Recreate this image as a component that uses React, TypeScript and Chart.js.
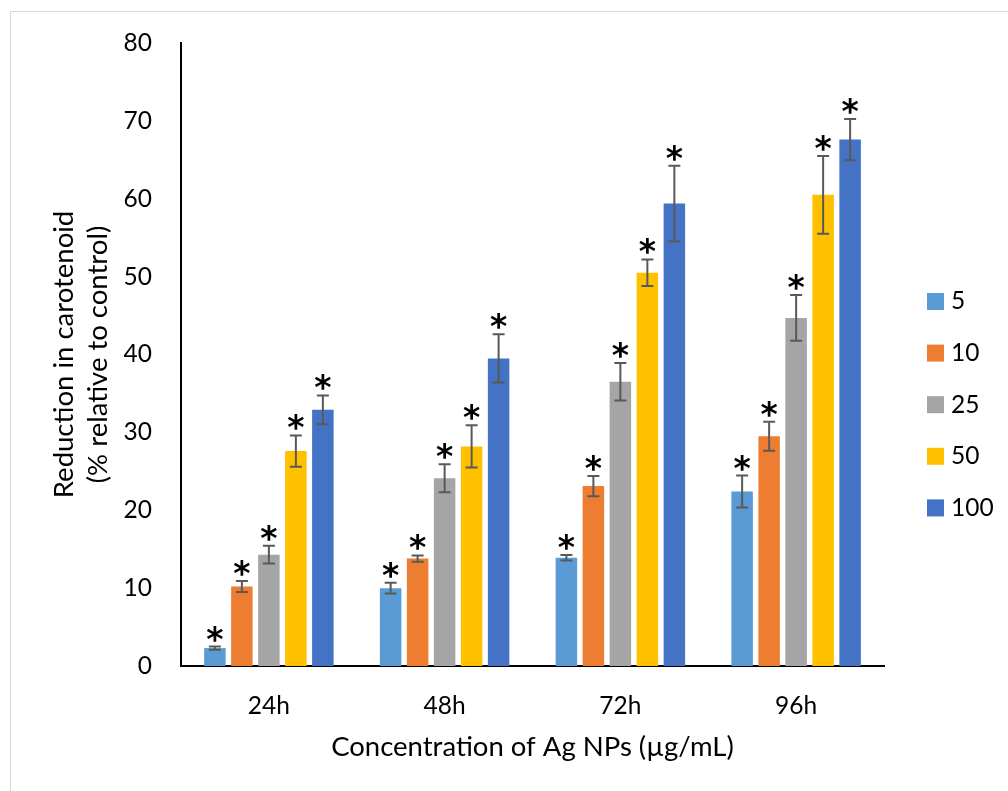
import { useEffect, useRef } from "react";
import { Chart, registerables } from "chart.js";

Chart.register(...registerables);

// ---- data ----
const categories = ["24h", "48h", "72h", "96h"];
const seriesLabels = ["5", "10", "25", "50", "100"];
const values5 = [2.3, 10.0, 13.9, 22.4];
const values10 = [10.2, 13.8, 23.1, 29.5];
const values25 = [14.3, 24.1, 36.5, 44.7];
const values50 = [27.6, 28.2, 50.5, 60.5];
const values100 = [32.9, 39.5, 59.4, 67.6];
const err5 = [0.2, 0.7, 0.35, 2.05];
const err10 = [0.7, 0.4, 1.3, 1.85];
const err25 = [1.15, 1.8, 2.4, 2.95];
const err50 = [2.0, 2.7, 1.7, 5.0];
const err100 = [1.85, 3.1, 4.85, 2.65];
const seriesColors = ["#5B9BD5", "#ED7D31", "#A5A5A5", "#FFC000", "#4472C4"];
const yMin = 0;
const yMax = 80;
const yStep = 10;
const xTitle = "Concentration of Ag NPs (µg/mL)";
const yTitle = ["Reduction in carotenoid", "(% relative to control)"];
const significanceMark = "*";

const allValues = [values5, values10, values25, values50, values100];
const allErrors = [err5, err10, err25, err50, err100];

const FONT = "Lato, 'Open Sans', sans-serif";

const errorBarPlugin = {
  id: "errorBarsAndMarks",
  afterDatasetsDraw(chart: any) {
    const ctx = chart.ctx;
    const yScale = chart.scales.y;
    chart.data.datasets.forEach((ds: any, i: number) => {
      const meta = chart.getDatasetMeta(i);
      meta.data.forEach((bar: any, j: number) => {
        const v = ds.data[j];
        const e = ds.errors[j];
        const top = yScale.getPixelForValue(v + e);
        const bot = yScale.getPixelForValue(v - e);
        const cap = 6;
        ctx.save();
        ctx.strokeStyle = "#595959";
        ctx.lineWidth = 2;
        ctx.beginPath();
        ctx.moveTo(bar.x, top);
        ctx.lineTo(bar.x, bot);
        ctx.moveTo(bar.x - cap, top);
        ctx.lineTo(bar.x + cap, top);
        ctx.moveTo(bar.x - cap, bot);
        ctx.lineTo(bar.x + cap, bot);
        ctx.stroke();
        ctx.font = "bold 33px 'DejaVu Sans'";
        ctx.fillStyle = "#000";
        ctx.textAlign = "center";
        ctx.textBaseline = "alphabetic";
        const m = ctx.measureText(significanceMark);
        const baseline = top - 5 - m.actualBoundingBoxDescent;
        ctx.fillText(significanceMark, bar.x, baseline);
        ctx.restore();
      });
    });
  },
};

const sideLegendPlugin = {
  id: "sideLegend",
  afterDraw(chart: any) {
    const ctx = chart.ctx;
    const area = chart.chartArea;
    const boxX = area.right + 43;
    const firstY = 289.5;
    const step = 51.6;
    const box = 17;
    chart.data.datasets.forEach((ds: any, i: number) => {
      const cy = firstY + i * step;
      ctx.save();
      ctx.fillStyle = ds.backgroundColor;
      ctx.fillRect(boxX, cy - box / 2, box, box);
      ctx.fillStyle = "#000";
      ctx.font = `24.5px ${FONT}`;
      ctx.textAlign = "left";
      ctx.textBaseline = "middle";
      ctx.fillText(ds.label, boxX + 24, cy);
      ctx.restore();
    });
  },
};

export default function App() {
  const canvasRef = useRef<HTMLCanvasElement | null>(null);

  useEffect(() => {
    if (!canvasRef.current) return;
    const chart = new Chart(canvasRef.current, {
      type: "bar",
      data: {
        labels: categories,
        datasets: seriesLabels.map((label, i) => ({
          label,
          data: allValues[i],
          errors: allErrors[i],
          backgroundColor: seriesColors[i],
          borderWidth: 0,
          categoryPercentage: 0.768,
          barPercentage: 0.796,
        })) as any,
      },
      options: {
        responsive: false,
        animation: false,
        layout: { padding: { top: 31, right: 124, bottom: 0, left: 0 } },
        plugins: {
          legend: { display: false },
          tooltip: { enabled: false },
        },
        scales: {
          x: {
            grid: { display: false, drawTicks: false },
            border: { display: true, color: "#000", width: 2 },
            ticks: { color: "#000", font: { family: FONT, size: 24.5 }, padding: 25 },
            title: {
              display: true,
              text: xTitle,
              color: "#000",
              font: { family: FONT, size: 27.5 },
              padding: { top: 0, bottom: 27.5 },
            },
            afterFit: (scale: any) => {
              scale.height = 125;
            },
          },
          y: {
            min: yMin,
            max: yMax,
            grid: { display: false, drawTicks: false },
            border: { display: true, color: "#000", width: 2 },
            ticks: {
              stepSize: yStep,
              color: "#000",
              font: { family: FONT, size: 24.5 },
              padding: 29,
            },
            title: {
              display: true,
              text: yTitle,
              color: "#000",
              font: { family: FONT, size: 27.5, lineHeight: 1.236 },
              padding: { top: 36.4, bottom: 0 },
            },
            afterFit: (scale: any) => {
              scale.width = 170;
              scale.paddingTop = 0;
              scale.paddingBottom = 0;
            },
          },
        },
      },
      plugins: [errorBarPlugin, sideLegendPlugin],
    });
    return () => chart.destroy();
  }, []);

  return (
    <div
      style={{
        position: "fixed",
        left: 10,
        top: 11,
        width: 998,
        height: 780,
        borderTop: "1px solid #d9d9d9",
        borderLeft: "1px solid #d9d9d9",
        background: "#fff",
        boxSizing: "border-box",
      }}
    >
      <canvas ref={canvasRef} width={997} height={779} style={{ display: "block" }} />
    </div>
  );
}
